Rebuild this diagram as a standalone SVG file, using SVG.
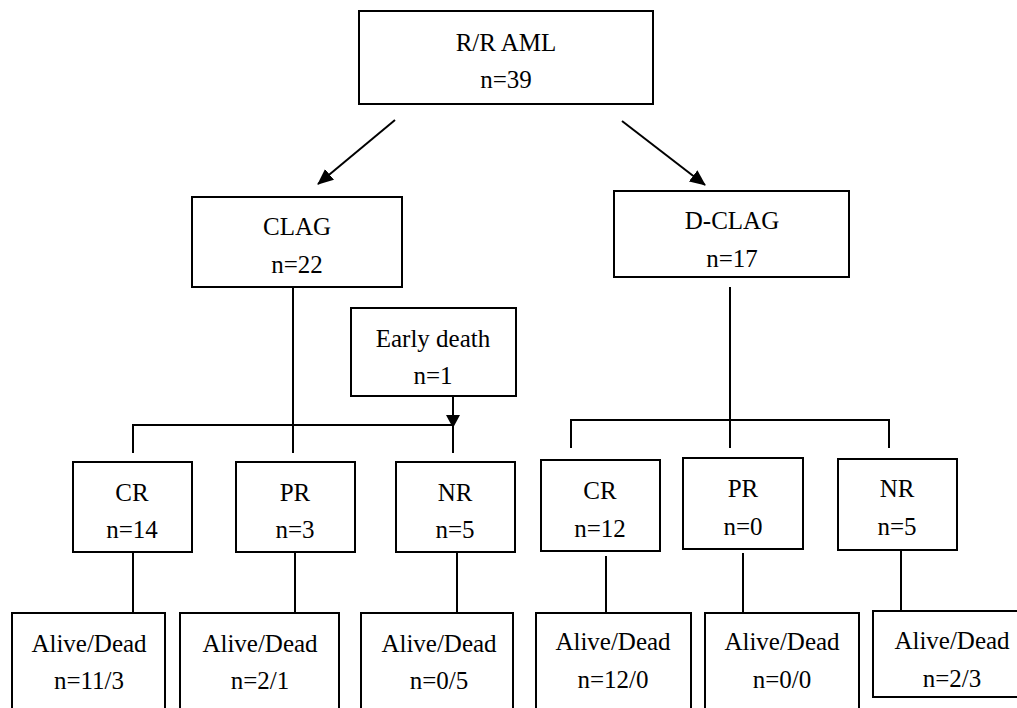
<svg xmlns="http://www.w3.org/2000/svg" width="1017" height="708" viewBox="0 0 1017 708">
<style>
.box{fill:#fff;stroke:#000;stroke-width:2}
.t{font-family:"Liberation Serif","Times New Roman",serif;font-size:25px;fill:#000;text-anchor:middle}
.c{fill:none;stroke:#000;stroke-width:2}
</style>
<defs>
<marker id="ah" markerWidth="13" markerHeight="14" refX="12" refY="7" orient="auto" markerUnits="userSpaceOnUse" viewBox="0 0 13 14">
<path d="M0,0 L13,7 L0,14 z" fill="#000"/>
</marker>
<marker id="ah2" markerWidth="16" markerHeight="14" refX="15" refY="7" orient="auto" markerUnits="userSpaceOnUse" viewBox="0 0 16 14">
<path d="M0,0 L16,7 L0,14 z" fill="#000"/>
</marker>
</defs>
<rect width="1017" height="708" fill="#fff"/>
<g id="connectors">
<line class="c" x1="395" y1="120" x2="318" y2="184" marker-end="url(#ah2)"/>
<line class="c" x1="622" y1="121" x2="705" y2="185" marker-end="url(#ah2)"/>
<line class="c" x1="293" y1="287" x2="293" y2="453"/>
<polyline class="c" points="133,453 133,425 453,425"/>
<line class="c" x1="453" y1="396" x2="453" y2="427" marker-end="url(#ah)"/>
<line class="c" x1="453" y1="425" x2="453" y2="453"/>
<line class="c" x1="730" y1="287" x2="730" y2="448"/>
<polyline class="c" points="571,448 571,420 889,420 889,448"/>
<line class="c" x1="133" y1="552" x2="133" y2="613"/>
<line class="c" x1="295" y1="552" x2="295" y2="613"/>
<line class="c" x1="457" y1="552" x2="457" y2="613"/>
<line class="c" x1="606" y1="556" x2="606" y2="613"/>
<line class="c" x1="743" y1="553" x2="743" y2="613"/>
<line class="c" x1="901" y1="550" x2="901" y2="611"/>
</g>
<g id="rr"><rect class="box" x="359" y="11" width="294" height="93"/><text class="t" x="506" y="51">R/R AML</text><text class="t" x="506" y="88">n=39</text></g>
<g id="clag"><rect class="box" x="192" y="197" width="210" height="90"/><text class="t" x="297" y="235">CLAG</text><text class="t" x="297" y="273">n=22</text></g>
<g id="dclag"><rect class="box" x="614" y="191" width="235" height="86"/><text class="t" x="732" y="229">D-CLAG</text><text class="t" x="732" y="267">n=17</text></g>
<g id="early"><rect class="box" x="351" y="308" width="165" height="88"/><text class="t" x="433" y="347">Early death</text><text class="t" x="433" y="384">n=1</text></g>
<g id="cr1"><rect class="box" x="73" y="462" width="119" height="90"/><text class="t" x="132" y="501">CR</text><text class="t" x="132" y="538">n=14</text></g>
<g id="pr1"><rect class="box" x="236" y="462" width="119" height="90"/><text class="t" x="295" y="501">PR</text><text class="t" x="295" y="538">n=3</text></g>
<g id="nr1"><rect class="box" x="396" y="462" width="119" height="90"/><text class="t" x="455" y="501">NR</text><text class="t" x="455" y="538">n=5</text></g>
<g id="cr2"><rect class="box" x="541" y="460" width="119" height="91"/><text class="t" x="600" y="499">CR</text><text class="t" x="600" y="537">n=12</text></g>
<g id="pr2"><rect class="box" x="683" y="458" width="120" height="91"/><text class="t" x="743" y="497">PR</text><text class="t" x="743" y="535">n=0</text></g>
<g id="nr2"><rect class="box" x="838" y="459" width="119" height="91"/><text class="t" x="897" y="497">NR</text><text class="t" x="897" y="535">n=5</text></g>
<g id="ad1"><rect class="box" x="12" y="613" width="153" height="110"/><text class="t" x="89" y="652">Alive/Dead</text><text class="t" x="89" y="689">n=11/3</text></g>
<g id="ad2"><rect class="box" x="180" y="613" width="159" height="110"/><text class="t" x="260" y="652">Alive/Dead</text><text class="t" x="260" y="689">n=2/1</text></g>
<g id="ad3"><rect class="box" x="361" y="613" width="152" height="110"/><text class="t" x="439" y="652">Alive/Dead</text><text class="t" x="439" y="689">n=0/5</text></g>
<g id="ad4"><rect class="box" x="536" y="613" width="155" height="110"/><text class="t" x="613" y="650">Alive/Dead</text><text class="t" x="613" y="688">n=12/0</text></g>
<g id="ad5"><rect class="box" x="705" y="613" width="154" height="110"/><text class="t" x="782" y="650">Alive/Dead</text><text class="t" x="782" y="688">n=0/0</text></g>
<g id="ad6"><rect class="box" x="873" y="611" width="150" height="86"/><text class="t" x="952" y="649">Alive/Dead</text><text class="t" x="952" y="687">n=2/3</text></g>
</svg>
